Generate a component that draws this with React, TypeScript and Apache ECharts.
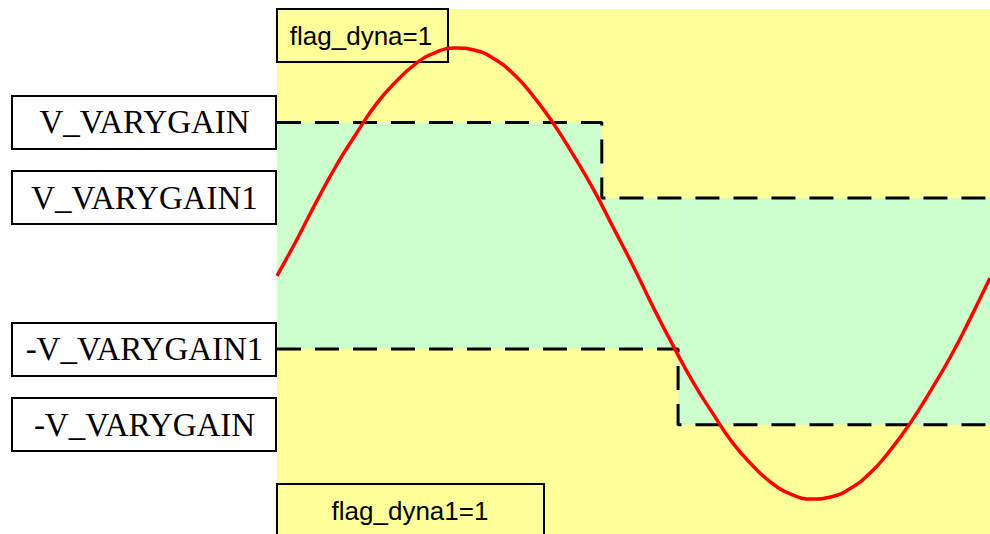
import React, { useEffect, useRef } from 'react';
import * as echarts from 'echarts';

// Phase (degrees) and the red signal
const phaseDeg = [0, 10, 20, 30, 40, 50, 60, 70, 80, 90, 100, 110, 120, 130, 140, 150, 160, 170, 180,
  190, 200, 210, 220, 230, 240, 250, 260, 270, 280, 290, 300, 310, 320, 330, 340, 350, 360];
const signalValues = [-0.01, 0.15, 0.32, 0.48, 0.62, 0.75, 0.85, 0.93, 0.98, 1.0, 0.99, 0.95, 0.88,
  0.78, 0.66, 0.52, 0.37, 0.2, 0.03, -0.15, -0.32, -0.48, -0.62, -0.75, -0.85, -0.93, -0.98, -1.0,
  -0.99, -0.95, -0.88, -0.78, -0.66, -0.52, -0.37, -0.2, -0.02];

// Threshold levels and their labels
const thresholdNames = ['V_VARYGAIN', 'V_VARYGAIN1', '-V_VARYGAIN1', '-V_VARYGAIN'];
const thresholdValues = [0.67, 0.335, -0.335, -0.67];
const upperStepDeg = 164;
const lowerStepDeg = 202.5;
const phaseRange = [0, 360];
const flagLabels = ['flag_dyna=1', 'flag_dyna1=1'];

export default function App() {
  const ref = useRef<HTMLDivElement>(null);
  useEffect(() => {
    if (!ref.current) return;
    const chart = echarts.init(ref.current, null, { renderer: 'svg' });
    const [vHi, vLo, nvLo, nvHi] = thresholdValues;
    const [x0, x1] = phaseRange;
    const signal = phaseDeg.map((d, i) => [d, signalValues[i]]);
    const upperLine = [[x0, vHi], [upperStepDeg, vHi], [upperStepDeg, vLo], [x1, vLo]];
    const lowerLine = [[x0, nvLo], [lowerStepDeg, nvLo], [lowerStepDeg, nvHi], [x1, nvHi]];
    const dash = {
      color: '#000', width: 3, type: [24, 14] as any,
    };
    chart.setOption({
      animation: false,
      backgroundColor: '#ffffff',
      grid: {
        left: 277, right: 0, top: 9, bottom: 0,
        show: true, backgroundColor: '#FFFF99', borderWidth: 0,
      },
      xAxis: { type: 'value', min: x0, max: x1, show: false },
      yAxis: { type: 'value', min: -1.155, max: 1.173, show: false },
      series: [
        {
          type: 'line', data: [], z: 1, silent: true,
          markArea: {
            silent: true,
            itemStyle: { color: '#CCFFCC', opacity: 1 },
            label: { show: false },
            data: [
              [{ coord: [x0, nvLo] }, { coord: [upperStepDeg, vHi] }],
              [{ coord: [upperStepDeg, nvLo] }, { coord: [lowerStepDeg, vLo] }],
              [{ coord: [lowerStepDeg, nvHi] }, { coord: [x1, vLo] }],
            ],
          },
        },
        { type: 'line', data: upperLine, symbol: 'none', lineStyle: dash, z: 3 },
        { type: 'line', data: lowerLine, symbol: 'none', lineStyle: dash, z: 3 },
        {
          type: 'line', data: signal, symbol: 'none', smooth: true, z: 5,
          lineStyle: { color: '#FF0000', width: 3.5 },
        },
      ],
    });

    const ys = thresholdValues.map((v) => chart.convertToPixel({ yAxisIndex: 0 }, v) as number);
    const boxes: any[] = [];
    thresholdNames.forEach((name, i) => {
      const cy = ys[i];
      boxes.push({
        type: 'rect', z: 10,
        shape: { x: 12, y: Math.round(cy - 26.5), width: 264, height: 53 },
        style: { fill: '#ffffff', stroke: '#000', lineWidth: 2 },
      });
      boxes.push({
        type: 'text', z: 11, x: 144.5, y: cy,
        style: {
          text: name, fill: '#000', font: '33px "Liberation Serif"',
          textAlign: 'center', textVerticalAlign: 'middle',
        },
      });
    });
    boxes.push(
      {
        type: 'rect', z: 1,
        shape: { x: 277, y: 9, width: 171, height: 53 },
        style: { fill: '#FFFF99', stroke: '#000', lineWidth: 2 },
      },
      {
        type: 'text', z: 1, x: 361, y: 36,
        style: {
          text: flagLabels[0], fill: '#000', font: '26px "Liberation Sans"',
          textAlign: 'center', textVerticalAlign: 'middle',
        },
      },
      {
        type: 'rect', z: 1,
        shape: { x: 277, y: 484, width: 267, height: 60 },
        style: { fill: '#FFFF99', stroke: '#000', lineWidth: 2 },
      },
      {
        type: 'text', z: 1, x: 410, y: 511,
        style: {
          text: flagLabels[1], fill: '#000', font: '26px "Liberation Sans"',
          textAlign: 'center', textVerticalAlign: 'middle',
        },
      },
    );
    chart.setOption({ graphic: { elements: boxes } });
    return () => chart.dispose();
  }, []);
  return (
    <div
      ref={ref}
      style={{ position: 'absolute', left: 0, top: 0, width: 990, height: 534, background: '#fff' }}
    />
  );
}
